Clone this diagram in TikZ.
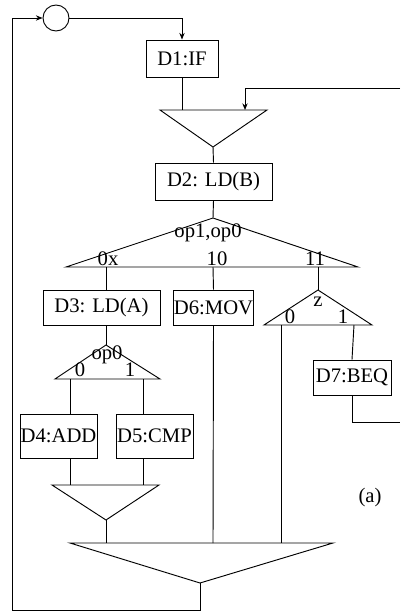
\documentclass[tikz,border=0pt]{standalone}
\usepackage{fontspec}
\setmainfont{Liberation Serif}
\usetikzlibrary{arrows.meta}
\begin{document}
\begin{tikzpicture}[x=0.75pt,y=-0.75pt, line width=0.7pt,
  box/.style={draw, inner sep=0pt, minimum height=27.75pt, font=\fontsize{15.5}{18}\selectfont},
  lbl/.style={inner sep=0pt, font=\fontsize{15.5}{18}\selectfont},
  arr/.style={-{Stealth[length=5pt,width=4pt]}}]
\useasboundingbox (0,0) rectangle (401,614);
% boxes
\node[box, minimum width=54pt] (d1) at (182,58.5) {D1:IF};
\node[box, minimum width=87.75pt] (d2) at (213.5,181.5) {D2: LD(B)};
\node[box, minimum width=87.75pt, minimum height=26.25pt] (d3) at (101.5,307.5) {D3: LD(A)};
\node[box, minimum width=54.75pt, minimum height=26.25pt] (d6) at (213.5,307.5) {D6:MOV};
\node[box, minimum width=58.5pt, minimum height=26.25pt] (d7) at (352,377.5) {D7:BEQ};
\node[box, minimum width=57.75pt, minimum height=33pt] (d4) at (58.5,436) {D4:ADD};
\node[box, minimum width=57.75pt, minimum height=33pt] (d5) at (154.5,436) {D5:CMP};
\node[draw, circle, minimum size=19.5pt, inner sep=0pt] (c) at (56,18) {};
% triangle 1 (merge)
\coordinate (t1l) at (160,110); \coordinate (t1r) at (267,110); \coordinate (t1a) at (213,147);
\coordinate (t1in) at (182,110); \coordinate (fbin) at (245,110); \coordinate (fbr) at (400,88);
\draw (t1l) -- (t1r) -- (t1a) -- cycle;
% triangle 2 (branch op1,op0)
\coordinate (t2a) at (213,218); \coordinate (t2l) at (66,267); \coordinate (t2r) at (358,267);
\coordinate (b0x) at (106,267); \coordinate (b10) at (213,267); \coordinate (b11) at (318,267);
\draw (t2a) -- (t2l) -- (t2r) -- cycle;
% z triangle
\coordinate (tza) at (318,290); \coordinate (tzl) at (264,325); \coordinate (tzr) at (372,325);
\coordinate (z0) at (281,325); \coordinate (z1) at (354,325);
\draw (tza) -- (tzl) -- (tzr) -- cycle;
% op0 triangle
\coordinate (toa) at (106,345); \coordinate (tol) at (55,379); \coordinate (tor) at (160,379);
\coordinate (o0) at (70,379); \coordinate (o1) at (143,379);
\draw (toa) -- (tol) -- (tor) -- cycle;
% merge triangle 4
\coordinate (t4l) at (52,485); \coordinate (t4r) at (159,485); \coordinate (t4a) at (106,520);
\coordinate (t4i0) at (70,485); \coordinate (t4i1) at (143,485);
\draw (t4l) -- (t4r) -- (t4a) -- cycle;
% merge triangle 5
\coordinate (t5l) at (70,543); \coordinate (t5r) at (333,543); \coordinate (t5a) at (200,583);
\coordinate (t5i0) at (106,543); \coordinate (t5i1) at (213,543); \coordinate (t5i2) at (281,543);
\draw (t5l) -- (t5r) -- (t5a) -- cycle;
\coordinate (lb) at (200,610); \coordinate (lt) at (12,18);
\coordinate (ct) at (182,18);
\coordinate (d7o) at (400,422);
% labels
\node[lbl] (l1) at (208,233) {op1,op0};
\node[lbl] (l2) at (108,259) {0x};
\node[lbl] (l3) at (217,259) {10};
\node[lbl] (l4) at (315,259) {11};
\node[lbl] (l5) at (318,302) {z};
\node[lbl] (l6) at (290,317) {0};
\node[lbl] (l7) at (343,317) {1};
\node[lbl] (l8) at (107,355) {op0};
\node[lbl] (l9) at (80,370) {0};
\node[lbl] (l10) at (130,370) {1};
\node[lbl] (la) at (370,498) {(a)};
% connectors
\draw[arr] (c.east) -- (ct) -- (d1.north);
\draw (d1.south) -- (t1in);
\draw[arr] (fbr) -| (fbin);
\draw (t1a) -- (d2.north);
\draw (d2.south) -- (t2a);
\draw (b0x) -- (b0x |- d3.north);
\draw (b10) -- (d6.north);
\draw (b11) -- (tza);
\draw (toa |- d3.south) -- (toa);
\draw (o0) -- (o0 |- d4.north);
\draw (o1) -- (o1 |- d5.north);
\draw (t4i0 |- d4.south) -- (t4i0);
\draw (t4i1 |- d5.south) -- (t4i1);
\draw (t4a) -- (t5i0);
\draw (d6.south) -- (t5i1);
\draw (z0) -- (t5i2);
\draw (z1) -- (d7.north);
\draw (d7.south) |- (d7o);
\draw[arr] (t5a) -- (lb) -| (lt) -- (c.west);
\end{tikzpicture}
\end{document}
